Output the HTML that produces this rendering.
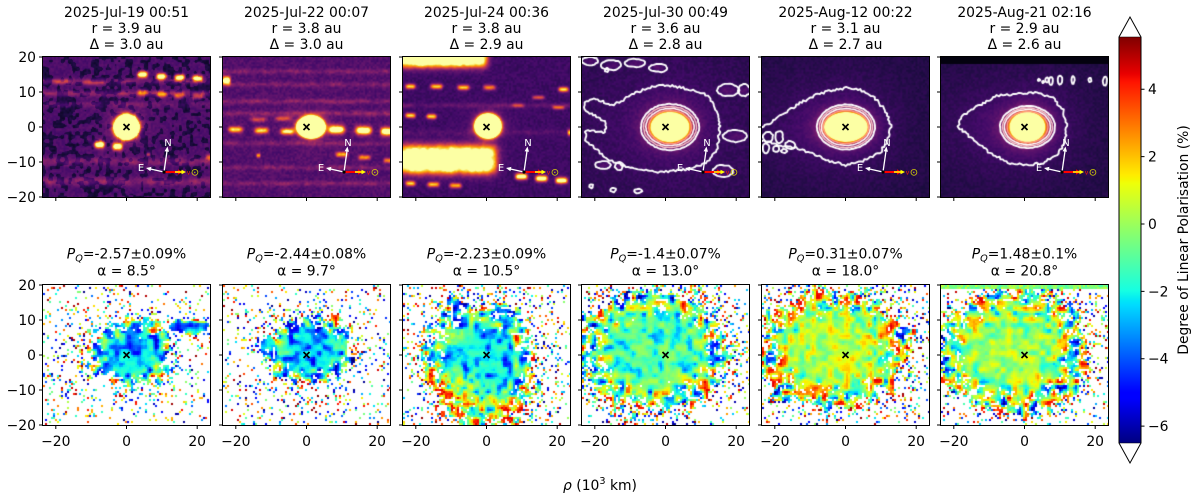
<!DOCTYPE html>
<html><head><meta charset="utf-8">
<style>
body{margin:0;background:#fff;}
#root{position:relative;width:1200px;height:500px;overflow:hidden;background:#fff;}
canvas{position:absolute;}
canvas.t{background:#2e0f56;}
canvas.b{background:#fff;}
svg{position:absolute;left:0;top:0;}
</style></head><body><div id="root">
<canvas id="t0" class="t" width="167" height="140" style="left:43px;top:57px"></canvas>
<canvas id="t1" class="t" width="167" height="140" style="left:223px;top:57px"></canvas>
<canvas id="t2" class="t" width="167" height="140" style="left:403px;top:57px"></canvas>
<canvas id="t3" class="t" width="167" height="140" style="left:582px;top:57px"></canvas>
<canvas id="t4" class="t" width="167" height="140" style="left:762px;top:57px"></canvas>
<canvas id="t5" class="t" width="167" height="140" style="left:941px;top:57px"></canvas>
<canvas id="b0" class="b" width="167" height="140" style="left:43px;top:285px"></canvas>
<canvas id="b1" class="b" width="167" height="140" style="left:223px;top:285px"></canvas>
<canvas id="b2" class="b" width="167" height="140" style="left:403px;top:285px"></canvas>
<canvas id="b3" class="b" width="167" height="140" style="left:582px;top:285px"></canvas>
<canvas id="b4" class="b" width="167" height="140" style="left:762px;top:285px"></canvas>
<canvas id="b5" class="b" width="167" height="140" style="left:941px;top:285px"></canvas>

<svg width="1200" height="500" font-family="DejaVu Sans, Liberation Sans, sans-serif" font-size="13.9">
<defs>
<linearGradient id="jg" x1="0" y1="1" x2="0" y2="0">
<stop offset="0" stop-color="#000080"/>
<stop offset="0.11" stop-color="#0000ff"/>
<stop offset="0.125" stop-color="#0000ff"/>
<stop offset="0.34" stop-color="#00dbff"/>
<stop offset="0.35" stop-color="#00e5f8"/>
<stop offset="0.375" stop-color="#15ffe2"/>
<stop offset="0.5" stop-color="#7bff7b"/>
<stop offset="0.64" stop-color="#efff08"/>
<stop offset="0.65" stop-color="#f7f500"/>
<stop offset="0.66" stop-color="#ffec00"/>
<stop offset="0.89" stop-color="#ff1300"/>
<stop offset="0.91" stop-color="#e80000"/>
<stop offset="1" stop-color="#800000"/>
</linearGradient>
<g id="ax">
<rect x="-0.5" y="56.5" width="168" height="141" fill="none" stroke="#000" stroke-width="1"/>
<rect x="-0.5" y="284.5" width="168" height="141" fill="none" stroke="#000" stroke-width="1"/>
<path d="M12.8 197.5v3.5M83.5 197.5v3.5M154.2 197.5v3.5M12.8 425.5v3.5M83.5 425.5v3.5M154.2 425.5v3.5M-0.5 57h-3.5M-0.5 92h-3.5M-0.5 127h-3.5M-0.5 162h-3.5M-0.5 197h-3.5M-0.5 285h-3.5M-0.5 320h-3.5M-0.5 355h-3.5M-0.5 390h-3.5M-0.5 425h-3.5" stroke="#000" stroke-width="1" fill="none"/>
<path d="M80.5 124l6 6M86.5 124l-6 6M80.5 352l6 6M86.5 352l-6 6" stroke="#000" stroke-width="1.7" fill="none"/>
</g>
<g id="cpa">
<line x1="121" y1="115" x2="124" y2="94" stroke="#fff" stroke-width="1.3"/>
<path d="M124.5 89.5L126 94.8L121.6 94.2Z" fill="#fff"/>
<line x1="121" y1="115" x2="107.5" y2="112" stroke="#fff" stroke-width="1.3"/>
<path d="M103 111L108.4 109.9L107.4 114.3Z" fill="#fff"/>
<line x1="121" y1="115" x2="136" y2="115" stroke="#ff0000" stroke-width="2"/>
<path d="M140 115L135 112.4L135 117.6Z" fill="#ff0000"/>
<line x1="132" y1="115" x2="139" y2="115" stroke="#ffff00" stroke-width="1.5"/>
<path d="M143 115L138.5 112.8L138.5 117.2Z" fill="#ffff00"/>
<circle cx="121" cy="115" r="1.6" fill="#000"/>
</g>
</defs>

<use href="#ax" transform="translate(43,0)"/>
<use href="#ax" transform="translate(223,0)"/>
<use href="#ax" transform="translate(403,0)"/>
<use href="#ax" transform="translate(582,0)"/>
<use href="#ax" transform="translate(762,0)"/>
<use href="#ax" transform="translate(941,0)"/>

<g transform="translate(43,57)"><use href="#cpa"/><text x="125" y="89" fill="#fff" font-size="10" text-anchor="middle">N</text><text x="98" y="114" fill="#fff" font-size="10" text-anchor="middle">E</text><text x="145.5" y="117.5" fill="#ff2000" font-size="6" text-anchor="middle">v</text><text x="152" y="118.5" fill="#dcdc00" font-size="10" text-anchor="middle">⊙</text></g>
<g transform="translate(223,57)"><use href="#cpa"/><text x="125" y="89" fill="#fff" font-size="10" text-anchor="middle">N</text><text x="98" y="114" fill="#fff" font-size="10" text-anchor="middle">E</text><text x="145.5" y="117.5" fill="#ff2000" font-size="6" text-anchor="middle">v</text><text x="152" y="118.5" fill="#dcdc00" font-size="10" text-anchor="middle">⊙</text></g>
<g transform="translate(403,57)"><use href="#cpa"/><text x="125" y="89" fill="#fff" font-size="10" text-anchor="middle">N</text><text x="98" y="114" fill="#fff" font-size="10" text-anchor="middle">E</text><text x="145.5" y="117.5" fill="#ff2000" font-size="6" text-anchor="middle">v</text><text x="152" y="118.5" fill="#dcdc00" font-size="10" text-anchor="middle">⊙</text></g>
<g transform="translate(582,57)"><use href="#cpa"/><text x="125" y="89" fill="#fff" font-size="10" text-anchor="middle">N</text><text x="98" y="114" fill="#fff" font-size="10" text-anchor="middle">E</text><text x="145.5" y="117.5" fill="#ff2000" font-size="6" text-anchor="middle">v</text><text x="152" y="118.5" fill="#dcdc00" font-size="10" text-anchor="middle">⊙</text></g>
<g transform="translate(762,57)"><use href="#cpa"/><text x="125" y="89" fill="#fff" font-size="10" text-anchor="middle">N</text><text x="98" y="114" fill="#fff" font-size="10" text-anchor="middle">E</text><text x="145.5" y="117.5" fill="#ff2000" font-size="6" text-anchor="middle">v</text><text x="152" y="118.5" fill="#dcdc00" font-size="10" text-anchor="middle">⊙</text></g>
<g transform="translate(941,57)"><use href="#cpa"/><text x="125" y="89" fill="#fff" font-size="10" text-anchor="middle">N</text><text x="98" y="114" fill="#fff" font-size="10" text-anchor="middle">E</text><text x="145.5" y="117.5" fill="#ff2000" font-size="6" text-anchor="middle">v</text><text x="152" y="118.5" fill="#dcdc00" font-size="10" text-anchor="middle">⊙</text></g>

<g fill="#000" text-anchor="middle">
<text x="126.5" y="17">2025-Jul-19 00:51</text><text x="126.5" y="33">r = 3.9 au</text><text x="126.5" y="49">Δ = 3.0 au</text>
<text x="306.5" y="17">2025-Jul-22 00:07</text><text x="306.5" y="33">r = 3.8 au</text><text x="306.5" y="49">Δ = 3.0 au</text>
<text x="486.5" y="17">2025-Jul-24 00:36</text><text x="486.5" y="33">r = 3.8 au</text><text x="486.5" y="49">Δ = 2.9 au</text>
<text x="665.5" y="17">2025-Jul-30 00:49</text><text x="665.5" y="33">r = 3.6 au</text><text x="665.5" y="49">Δ = 2.8 au</text>
<text x="845.5" y="17">2025-Aug-12 00:22</text><text x="845.5" y="33">r = 3.1 au</text><text x="845.5" y="49">Δ = 2.7 au</text>
<text x="1024.5" y="17">2025-Aug-21 02:16</text><text x="1024.5" y="33">r = 2.9 au</text><text x="1024.5" y="49">Δ = 2.6 au</text>

<text x="126.5" y="258.5"><tspan font-style="italic">P</tspan><tspan font-style="italic" font-size="9.7" dy="3">Q</tspan><tspan dy="-3">=-2.57±0.09%</tspan></text><text x="126.5" y="275.5">α = 8.5°</text>
<text x="306.5" y="258.5"><tspan font-style="italic">P</tspan><tspan font-style="italic" font-size="9.7" dy="3">Q</tspan><tspan dy="-3">=-2.44±0.08%</tspan></text><text x="306.5" y="275.5">α = 9.7°</text>
<text x="486.5" y="258.5"><tspan font-style="italic">P</tspan><tspan font-style="italic" font-size="9.7" dy="3">Q</tspan><tspan dy="-3">=-2.23±0.09%</tspan></text><text x="486.5" y="275.5">α = 10.5°</text>
<text x="665.5" y="258.5"><tspan font-style="italic">P</tspan><tspan font-style="italic" font-size="9.7" dy="3">Q</tspan><tspan dy="-3">=-1.4±0.07%</tspan></text><text x="665.5" y="275.5">α = 13.0°</text>
<text x="845.5" y="258.5"><tspan font-style="italic">P</tspan><tspan font-style="italic" font-size="9.7" dy="3">Q</tspan><tspan dy="-3">=0.31±0.07%</tspan></text><text x="845.5" y="275.5">α = 18.0°</text>
<text x="1024.5" y="258.5"><tspan font-style="italic">P</tspan><tspan font-style="italic" font-size="9.7" dy="3">Q</tspan><tspan dy="-3">=1.48±0.1%</tspan></text><text x="1024.5" y="275.5">α = 20.8°</text>

<text x="55.8" y="446">−20</text><text x="126.5" y="446">0</text><text x="197.2" y="446">20</text>
<text x="235.8" y="446">−20</text><text x="306.5" y="446">0</text><text x="377.2" y="446">20</text>
<text x="415.8" y="446">−20</text><text x="486.5" y="446">0</text><text x="557.2" y="446">20</text>
<text x="594.8" y="446">−20</text><text x="665.5" y="446">0</text><text x="736.2" y="446">20</text>
<text x="774.8" y="446">−20</text><text x="845.5" y="446">0</text><text x="916.2" y="446">20</text>
<text x="953.8" y="446">−20</text><text x="1024.5" y="446">0</text><text x="1095.2" y="446">20</text>

<text x="600" y="490"><tspan font-style="italic">ρ</tspan> (10<tspan font-size="9.7" dy="-6">3</tspan><tspan dy="6"> km)</tspan></text>
</g>

<g fill="#000" text-anchor="end">
<text x="36" y="62">20</text><text x="36" y="97">10</text><text x="36" y="132">0</text><text x="36" y="167">−10</text><text x="36" y="202">−20</text>
<text x="36" y="290">20</text><text x="36" y="325">10</text><text x="36" y="360">0</text><text x="36" y="395">−10</text><text x="36" y="430">−20</text>
</g>

<rect x="1119" y="37" width="22" height="406" fill="url(#jg)"/>
<polygon points="1119,37 1130,17 1141,37 1141,443 1130,463 1119,443" fill="none" stroke="#000" stroke-width="1"/>
<path d="M1119 37H1141M1119 443H1141" stroke="#000" stroke-width="0.6"/>
<path d="M1141 89.2h3.5M1141 156.6h3.5M1141 224h3.5M1141 291.4h3.5M1141 358.7h3.5M1141 426.1h3.5" stroke="#000" stroke-width="1"/>
<g fill="#000">
<text x="1148" y="94.2">4</text><text x="1148" y="161.6">2</text><text x="1148" y="229">0</text><text x="1148" y="296.4">−2</text><text x="1148" y="363.7">−4</text><text x="1148" y="431.1">−6</text>
</g>
<text x="0" y="0" transform="translate(1188,240) rotate(-90)" text-anchor="middle" fill="#000">Degree of Linear Polarisation (%)</text>
</svg>
</div>
<script>
(function(){
var W=167,H=140;
function mk(s){return function(){s|=0;s=s+0x6D2B79F5|0;var t=Math.imul(s^s>>>15,1|s);t=t+Math.imul(t^t>>>7,61|t)^t;return((t^t>>>14)>>>0)/4294967296;};}
function noise(r,gw,gh){var W2=gw+3,H2=gh+3,g=new Float32Array(W2*H2);for(var i=0;i<g.length;i++)g[i]=r();
 return function(x,y){if(x<0)x=0;if(y<0)y=0;if(x>gw)x=gw;if(y>gh)y=gh;var xi=Math.floor(x),yi=Math.floor(y);var fx=x-xi,fy=y-yi;fx=fx*fx*(3-2*fx);fy=fy*fy*(3-2*fy);var a=g[yi*W2+xi],b=g[yi*W2+xi+1],c=g[(yi+1)*W2+xi],d=g[(yi+1)*W2+xi+1];return a+(b-a)*fx+(c-a)*fy+(a-b-c+d)*fx*fy;};}
var INF=[[0,0,4],[22,11,57],[66,10,104],[106,23,110],[147,38,103],[188,55,84],[221,81,58],[243,120,25],[252,165,10],[246,215,70],[252,255,164]];
function inf(t){t=t<0?0:t>1?1:t;var f=t*10,i=Math.min(9,Math.floor(f)),u=f-i,a=INF[i],b=INF[i+1];return[a[0]+(b[0]-a[0])*u,a[1]+(b[1]-a[1])*u,a[2]+(b[2]-a[2])*u];}
function seg(t,p){for(var i=1;i<p.length;i++){if(t<=p[i][0]){var a=p[i-1],b=p[i];return a[1]+(b[1]-a[1])*(t-a[0])/(b[0]-a[0]);}}return p[p.length-1][1];}
var JR=[[0,0],[.35,0],[.66,1],[.89,1],[1,.5]],JG=[[0,0],[.125,0],[.375,1],[.64,1],[.91,0],[1,0]],JB=[[0,.5],[.11,1],[.34,1],[.65,0],[1,0]];
function jet(v){var t=(v+6.5)/12.05;t=t<0?0:t>1?1:t;return[255*seg(t,JR),255*seg(t,JG),255*seg(t,JB)];}
function sg(z){return 1/(1+Math.exp(-z));}

function jag(ctx,pts,amp,r,col,lw){
 var out=[],n=pts.length;
 for(var k=0;k<n;k++){var a=pts[k],b=pts[(k+1)%n];var dx=b[0]-a[0],dy=b[1]-a[1],len=Math.sqrt(dx*dx+dy*dy)||1;var st=Math.max(1,Math.round(len/2));
  for(var s=0;s<st;s++){var t=s/st;var off=(r()-0.5)*2*amp;out.push([a[0]+dx*t-dy/len*off,a[1]+dy*t+dx/len*off]);}}
 ctx.beginPath();ctx.moveTo(out[0][0],out[0][1]);for(var i=1;i<out.length;i++)ctx.lineTo(out[i][0],out[i][1]);ctx.closePath();
 ctx.strokeStyle=col;ctx.lineWidth=lw;ctx.lineJoin='round';ctx.stroke();
}
function ell(cx,cy,rx,ry){var p=[],n=Math.max(10,Math.round((rx+ry)*1.6));for(var k=0;k<n;k++){var th=2*Math.PI*k/n;p.push([cx+rx*Math.cos(th),cy+ry*Math.sin(th)]);}return p;}

var TOP=[
 {seed:11,bg:0.23,bgN:0.04,patch:0.44,pd:0.13,
  bands:[[24,3,0.12],[36,3,0.14],[47,3,0.07],[104,4,0.12],[124,4,0.14]],
  stars:[[99,17,5,3,1.05],[118,19,5,3,1.05],[136,20,5,3,1.0],[154,21,5,3,1.0],[56,87,5,3.5,1.05],[74,89,5,3.5,1.0],
   [99,35,5,3,0.42],[118,37,5,3,0.42],[136,38,5,3,0.4],[154,39,5,3,0.4],[20,24,10,2.5,0.22],[50,25,10,2.5,0.22],[165,100,3,3,0.45],[105,97,2,2,0.4]],
  coma:{cx:83.5,cy:70,rx:12.5,ry:12.5,e:1.2,g:0.3,gs:3,hb:0.12,hs:14,tail:1}},
 {seed:22,bg:0.24,bgN:0.05,patch:0,
  bands:[[14,2.5,0.1],[27,2.5,0.1],[44,2.5,0.12],[56,2.5,0.13],[86,2.5,0.1],[110,2.5,0.1],[126,2.5,0.1]],
  stars:[[3,23,4,4,1.05],[12,72,7,3,0.72],[38,73,7,3,0.72],[64,74,7,3,0.78],[113,72,8,4,1.05],[140,73,8,4,1.05],[163,74,6,4,1.0],
   [118,97,6,2.5,0.62],[141,100,6,2.5,0.55],[165,103,5,2.5,0.5],[35,62,8,2.5,0.33],[60,61,8,2.5,0.38],[35,98,2,2,0.55]],
  coma:{cx:88,cy:70,rx:14,ry:11,e:1.2,g:0.3,gs:3,hb:0.1,hs:12,tail:1}},
 {seed:33,bg:0.19,bgN:0.035,patch:0,
  bands:[[48,2.5,0.08],[75,3,0.05]],
  rects:[[-5,-5,83,9,1.1,2],[-5,89,92,115,1.1,2.5]],
  stars:[[118,119,6,3,1.05],[138,121,6,3,1.05],[158,123,6,3,1.05],[7,29,5,2.5,0.72],[33,29,6,2.5,0.72],[60,30,6,2.5,0.7],[86,30,6,2.5,0.55],[160,32,5,2.5,0.75],
   [7,58,5,2.5,0.75],[28,59,5,2.5,0.75],[135,40,6,2,0.4],[155,50,6,2,0.45],[167,75,3,3,0.7],[7,126,5,2.5,0.7],[30,127,6,2.5,0.7],[52,128,6,2.5,0.65],[115,48,6,2,0.3]],
  coma:{cx:85,cy:69,rx:13,ry:12,e:1.2,g:0.3,gs:3,hb:0.1,hs:12,tail:1}},
 {seed:44,bg:0.15,bgN:0.03,patch:0,
  stars:[[8,4,6,3,0.07],[29,8,7,3,0.07],[53,6,7,3,0.07],[76,10,6,3,0.07],[146,33,8,4,0.08],[161,33,5,4,0.08],[154,79,8,4,0.08],[141,114,8,4,0.08],[21,108,6,3,0.07],[37,109,3,3,0.07]],
  coma:{cx:88,cy:70,rx:17.5,ry:13.5,e:1.3,g:0.55,gs:6,hb:0.17,hs:28,tail:0.8}},
 {seed:55,bg:0.12,bgN:0.025,patch:0,
  coma:{cx:84,cy:70,rx:20,ry:13.5,e:1.3,g:0.55,gs:6,hb:0.2,hs:30,tail:0.6}},
 {seed:66,bg:0.12,bgN:0.025,patch:0,black:7,
  coma:{cx:86.5,cy:70,rx:16,ry:13.5,e:1.3,g:0.55,gs:6,hb:0.2,hs:30,tail:0.6}}
];

function drawTop(k,c){
 var cv=document.getElementById('t'+k);if(!cv||!cv.getContext)return;var ctx=cv.getContext('2d');var im=ctx.createImageData(W,H);var D=im.data;
 var r=mk(c.seed);var nP=noise(r,45,38),nS=noise(r,90,75),nB=noise(r,30,26);
 var m=c.coma;
 for(var y=0;y<H;y++)for(var x=0;x<W;x++){
  var I=c.bg+c.bgN*(nS(x/1.9,y/1.9)-0.5)*2;
  if(c.patch){var p=nP(x/3.8,y/3.8);var s=Math.min(1,Math.max(0,(c.patch-p)/0.06));I-=c.pd*s;}
  var i,q,dx,dy,e;
  if(c.bands)for(i=0;i<c.bands.length;i++){var b=c.bands[i];e=(y-b[0])/b[1];I+=b[2]*Math.exp(-e*e)*(0.4+1.2*nB(x/6,y/6));}
  if(c.stars)for(i=0;i<c.stars.length;i++){var st=c.stars[i];dx=(x-st[0])/st[2];dy=(y-st[1])/st[3];q=dx*dx*dx*dx+dy*dy;if(q<14)I+=st[4]*Math.exp(-q);}
  if(c.rects)for(i=0;i<c.rects.length;i++){var R=c.rects[i];I+=R[4]*sg((x-R[0])/R[5])*sg((R[2]-x)/R[5])*sg((y-R[1])/R[5])*sg((R[3]-y)/R[5])*(0.85+0.3*nB(x/4,y/4));}
  dx=x+0.5-m.cx;dy=y+0.5-m.cy;var d=Math.sqrt((dx/m.rx)*(dx/m.rx)+(dy/m.ry)*(dy/m.ry));
  I+=1.3/(1+Math.exp((d-1)*m.rx/m.e));
  I+=m.g*Math.exp(-Math.max(0,(d-1)*m.rx)/m.gs);
  var dxs=dx<0?dx*m.tail:dx;I+=m.hb*Math.exp(-Math.sqrt(dxs*dxs+dy*dy)/m.hs);
  if(c.black&&y<c.black)I=0.02;
  var col=inf(I);var o=(y*W+x)*4;D[o]=col[0];D[o+1]=col[1];D[o+2]=col[2];D[o+3]=255;
 }
 ctx.putImageData(im,0,0);
 var rr=mk(c.seed+7);
 var LW=1.9;
 if(k===3){
  jag(ctx,[[3,46],[12,42],[21,44],[28,49],[35,46],[41,43],[50,37],[61,33],[70,30],[81,28],[92,29],[101,31],[113,34],[124,38],[130,45],[133,53],[137,62],[138,69],[137,79],[136,89],[131,98],[124,106],[113,110],[101,113],[88,114],[74,115],[60,113],[48,111],[38,107],[28,103],[18,96],[11,89],[5,85],[3,81],[4,73],[12,74],[21,76],[25,70],[24,66],[16,61],[8,56],[3,52]],1.2,rr,'#fff',LW);
  var L=[[8,4,8,4],[29,8,10,5],[53,6,10,4],[76,11,9,4],[146,33,11,6],[162,33,6,6],[153,79,12,6],[141,114,10,6],[21,108,8,4],[37,109,4,4],[31,133,3,2],[56,134,4,2],[9,129,2,2],[25,13,2,2]];
  for(var j=0;j<L.length;j++)jag(ctx,ell(L[j][0],L[j][1],L[j][2],L[j][3]),0.5,rr,'#fff',LW);
  jag(ctx,ell(88,70,29,23),0.4,rr,'#fff',LW);jag(ctx,ell(88,70,26.5,20.5),0.3,rr,'#f8c4c4',1.4);jag(ctx,ell(88,70,24,18.5),0.3,rr,'#fff',1.5);jag(ctx,ell(88,70,21.5,16.5),0.3,rr,'#ff9a80',1.3);
 }
 if(k===4){
  jag(ctx,[[-3,71],[0,71],[18,59],[38,46],[54,38],[71,33],[84,31],[98,33],[111,39],[123,53],[129,68],[126,83],[118,96],[101,104],[84,108],[68,104],[48,96],[34,91],[21,89],[10,86],[0,84],[-3,84]],1.2,rr,'#fff',LW);
  var L2=[[6,80,5,5],[17,80,4,6],[28,88,5,4],[4,91,3,5],[14,92,3,3],[22,94,3,2]];
  for(var j2=0;j2<L2.length;j2++)jag(ctx,ell(L2[j2][0],L2[j2][1],L2[j2][2],L2[j2][3]),0.5,rr,'#fff',LW);
  jag(ctx,ell(84,70,29,22.5),0.3,rr,'#fff',LW);jag(ctx,ell(84,70,26.5,20.5),0.2,rr,'#f8c4c4',1.4);jag(ctx,ell(84,70,24.5,18.5),0.2,rr,'#fff',1.5);jag(ctx,ell(84,70,22.5,16.5),0.2,rr,'#ff9a80',1.3);
 }
 if(k===5){
  jag(ctx,[[17,69],[22,74],[36,86],[49,96],[69,106],[86,108],[102,106],[116,98],[124,86],[126,69],[122,53],[112,41],[96,36],[76,37],[56,39],[42,46],[29,54],[22,59],[19,63]],1.2,rr,'#fff',LW);
  var L3=[[106,23,1.5,2.5],[110,24,2,4],[119,23,2.5,4.5],[132,23,1.5,4],[149,23,1.5,2],[164,24,2,4.5],[98,23,1,1],[102,25,1,1]];
  for(var j3=0;j3<L3.length;j3++)jag(ctx,ell(L3[j3][0],L3[j3][1],L3[j3][2],L3[j3][3]),0.3,rr,'#fff',LW);
  jag(ctx,ell(86.5,70,27.5,21),0.3,rr,'#fff',LW);jag(ctx,ell(86.5,70,25,19),0.2,rr,'#f8c4c4',1.4);jag(ctx,ell(86.5,70,23,17.5),0.2,rr,'#fff',1.5);jag(ctx,ell(86.5,70,20.5,15.5),0.2,rr,'#ff9a80',1.3);
 }
}

var BOT=[
 {seed:101,blobs:[[88,69,43,34],[148,42,22,8]],jit:0.5,cv:-2.3,an0:2.6,ap0:0.5,an1:5,ap1:8,es:1.2,pb:0.09,pe:0.22},
 {seed:202,blobs:[[88,65,42,33],[47,58,9,7]],jit:0.45,cv:-2.3,an0:2.6,ap0:0.5,an1:5,ap1:7,es:0.8,pb:0.1,pe:0.22},
 {seed:303,blobs:[[78,80,56,63]],jit:0.4,cv:-2.2,an0:2.6,ap0:0.8,an1:5,ap1:8,es:1.0,pb:0.09,pe:0.22,bias:[[45,122,30,5],[100,125,16,3],[28,95,12,2.5]]},
 {seed:404,blobs:[[72,66,73,60]],jit:0.35,cv:-1.0,an0:2.2,ap0:1.0,an1:6,ap1:7,es:0.5,pb:0.08,pe:0.25},
 {seed:505,blobs:[[70,64,75,58]],jit:0.35,cv:0.3,an0:1.5,ap0:1.5,an1:7,ap1:6,es:0.6,pb:0.08,pe:0.25},
 {seed:606,blobs:[[72,66,75,62]],jit:0.35,cv:0.1,an0:1.8,ap0:1.4,an1:7,ap1:6,es:0.2,pb:0.07,pe:0.25,strip:2,stripV:-0.3}
];
function drawBot(k,c){
 var cv=document.getElementById('b'+k);if(!cv||!cv.getContext)return;var ctx=cv.getContext('2d');
 var r=mk(c.seed);var nA=noise(r,40,35),nA2=noise(r,70,60),nJ=noise(r,30,26),nH=noise(r,60,50),nD=noise(r,60,50);
 var GW=84,GH=70;
 ctx.fillStyle='#fff';ctx.fillRect(0,0,W,H);
 for(var j=0;j<GH;j++)for(var i=0;i<GW;i++){
  var px=i*2+1,py=j*2+1,d=9,b,dx,dy;
  for(var q=0;q<c.blobs.length;q++){b=c.blobs[q];dx=(px-b[0])/b[2];dy=(py-b[1])/b[3];d=Math.min(d,Math.sqrt(dx*dx+dy*dy));}
  var de=d*(1+(nJ(i/3.2,j/3.2)-0.5)*c.jit);
  var v=null;
  if(de<1){
   var hole=de>0.72&&nH(i/1.4,j/1.4)>0.7;
   if(!hole&&r()>0.05*Math.max(0,de-0.5)){
    var n=((0.78*nA(i/2.8,j/2.8)+0.22*nA2(i/1.6,j/1.6))-0.5)*2.8;
    var w=Math.max(0,(de-0.45)/0.55);w=Math.pow(w,1.4);
    var an=c.an0+(c.an1-c.an0)*w,ap=c.ap0+(c.ap1-c.ap0)*w;
    v=c.cv+(n<0?n*an:n*ap)+c.es*w+(r()-0.5)*0.25;
    if(c.bias)for(var z=0;z<c.bias.length;z++){var B=c.bias[z];dx=(px-B[0])/B[2];dy=(py-B[1])/B[2];v+=B[3]*Math.exp(-(dx*dx+dy*dy))*(0.5+nA2(i/1.6,j/1.6));}
    if(v>4.6)v=4.6-(v-4.6)*0.3;
   }
  }else{
   var p=(c.pb+c.pe*Math.exp(-(de-1)*4))*(0.3+1.4*nD(i/1.5,j/1.5));
   if(r()<p)v=-6.5+r()*12;
  }
  if(c.strip&&j<c.strip)v=c.stripV+(r()-0.5)*2;
  if(v!==null){var col=jet(v);ctx.fillStyle='rgb('+(col[0]|0)+','+(col[1]|0)+','+(col[2]|0)+')';ctx.fillRect(i*2,j*2,2,2);}
 }
}
for(var k=0;k<6;k++){try{drawTop(k,TOP[k]);}catch(e){} try{drawBot(k,BOT[k]);}catch(e){}}
})();
</script>
</body></html>
